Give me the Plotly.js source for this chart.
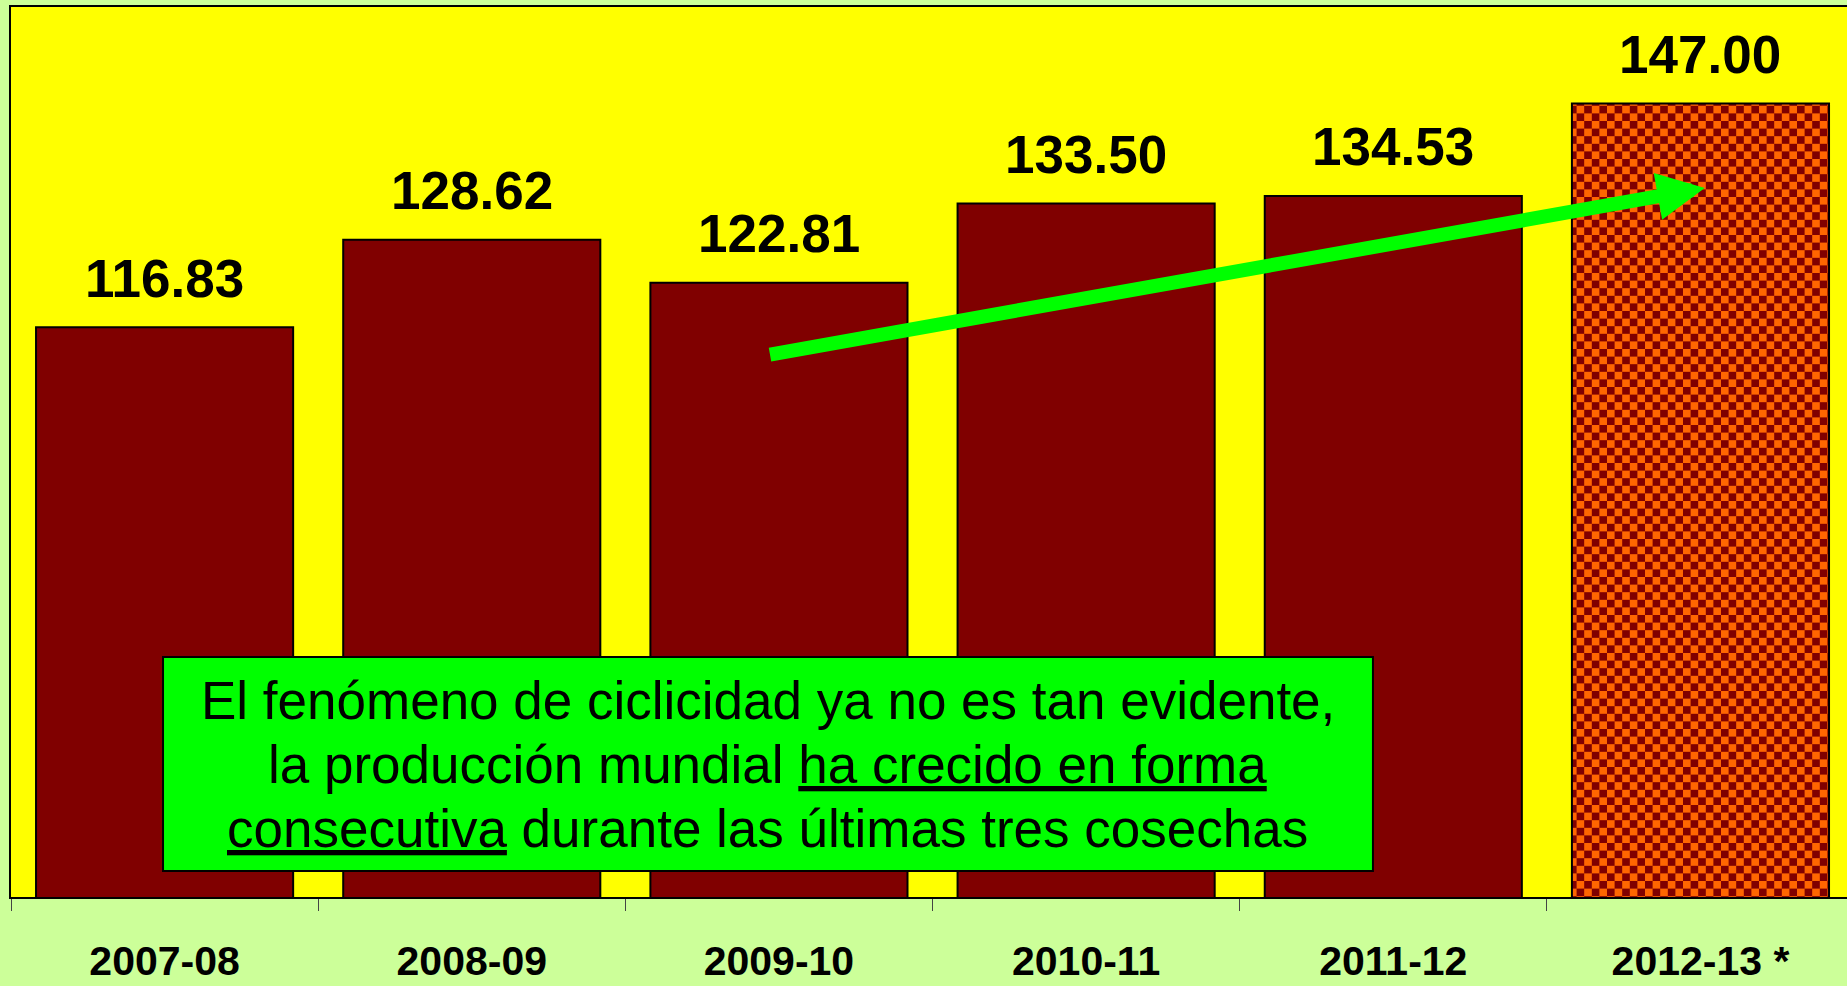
<!DOCTYPE html>
<html>
<head>
<meta charset="utf-8">
<script src="https://cdn.plot.ly/plotly-3.0.1.min.js"></script>
<style>
  html, body { margin: 0; padding: 0; background: #CCFF99; overflow: hidden; }
  #chart { width: 1847px; height: 986px; }
</style>
</head>
<body>
<div id="chart"></div>
<script>
// ---- data ----
const categories = ['2007-08', '2008-09', '2009-10', '2010-11', '2011-12', '2012-13 *'];
const production = [116.83, 128.62, 122.81, 133.50, 134.53, 147.00];
const labelTexts = ['116.83', '128.62', '122.81', '133.50', '134.53', '147.00'];
const isEstimate = [false, false, false, false, false, true];
const noteLines = [
  'El fenómeno de ciclicidad ya no es tan evidente,',
  'la producción mundial <span style="text-decoration:underline">ha crecido en forma</span>',
  '<span style="text-decoration:underline">consecutiva</span> durante las últimas tres cosechas'
];
// trend arrow: from 2009-10 area up to 2012-13 bar (category index, value)
const arrowFrom = [1.966, 113.1];
const arrowTo = [5.014, 135.6];

const FONT = 'Arial, "Liberation Sans", Helvetica, sans-serif';

const trace = {
  type: 'bar',
  x: categories,
  y: production,
  marker: {
    color: production.map(() => '#800000'),
    line: { color: '#000000', width: 2 },
    pattern: {
      shape: isEstimate.map(e => e ? '.' : ''),
      bgcolor: isEstimate.map(e => e ? '#FF6600' : '#800000'),
      fgcolor: '#800000',
      size: 10.7,
      solidity: 0.5,
      fillmode: 'replace'
    }
  },
  hoverinfo: 'skip',
  showlegend: false
};

const annotations = categories.map((c, i) => ({
  x: i, y: production[i], xref: 'x', yref: 'y',
  text: '<b>' + labelTexts[i] + '</b>',
  showarrow: false, xanchor: 'center', yanchor: 'middle', yshift: 49,
  font: { family: FONT, size: 53, color: '#000000' }
}));

const noteY = [0.2205, 0.1486, 0.0767];
noteLines.forEach((t, i) => annotations.push({
  x: 0.4123, y: noteY[i], xref: 'paper', yref: 'paper',
  text: t, showarrow: false, xanchor: 'center', yanchor: 'middle',
  font: { family: FONT, size: 53, color: '#000000' }
}));

annotations.push({
  x: arrowTo[0], y: arrowTo[1], xref: 'x', yref: 'y',
  ax: arrowFrom[0], ay: arrowFrom[1], axref: 'x', ayref: 'y',
  text: '', showarrow: true, arrowhead: 2, arrowsize: 0.68, arrowwidth: 14,
  arrowcolor: '#00FF00', standoff: 0, startstandoff: 0
});

const layout = {
  width: 1847, height: 986,
  margin: { l: 11, r: 0, t: 7, b: 89, pad: 0 },
  paper_bgcolor: '#CCFF99',
  plot_bgcolor: '#FFFF00',
  bargap: 0.163,
  xaxis: {
    type: 'category',
    range: [-0.5, 5.477],
    showline: true, linecolor: '#000000', linewidth: 2, mirror: true,
    ticks: 'outside', tickson: 'boundaries', ticklen: 12, tickwidth: 1, tickcolor: '#444444',
    ticklabelstandoff: 27,
    tickfont: { family: FONT, size: 41, color: '#000000', weight: 'bold' },
    showgrid: false, zeroline: false, fixedrange: true
  },
  yaxis: {
    range: [40, 160],
    showline: true, linecolor: '#000000', linewidth: 2, mirror: false,
    showticklabels: false, ticks: '', showgrid: false, zeroline: false, fixedrange: true
  },
  shapes: [{
    type: 'rect', xref: 'paper', yref: 'paper',
    x0: 0.0828, x1: 0.7418, y0: 0.0292, y1: 0.2697,
    fillcolor: '#00FF00', line: { color: '#000000', width: 2 }, layer: 'above'
  }],
  annotations: annotations,
  font: { family: FONT }
};

// restyle the estimate bar's texture as a checkerboard (style only)
function checkerize(gd) {
  const NS = 'http://www.w3.org/2000/svg';
  const cell = 7.6;
  gd.querySelectorAll('pattern').forEach(p => {
    p.setAttribute('width', 2 * cell);
    p.setAttribute('height', 2 * cell);
    p.removeAttribute('patternTransform');
    while (p.firstChild) p.removeChild(p.firstChild);
    const bg = document.createElementNS(NS, 'rect');
    bg.setAttribute('x', 0); bg.setAttribute('y', 0);
    bg.setAttribute('width', 2 * cell); bg.setAttribute('height', 2 * cell);
    bg.setAttribute('fill', '#FF6600');
    p.appendChild(bg);
    [[0, 0], [cell, cell]].forEach(([x, y]) => {
      const r = document.createElementNS(NS, 'rect');
      r.setAttribute('x', x); r.setAttribute('y', y);
      r.setAttribute('width', cell); r.setAttribute('height', cell);
      r.setAttribute('fill', '#800000');
      p.appendChild(r);
    });
  });
}

Plotly.newPlot('chart', [trace], layout, { displayModeBar: false, staticPlot: true })
  .then(gd => checkerize(gd));
</script>
</body>
</html>
